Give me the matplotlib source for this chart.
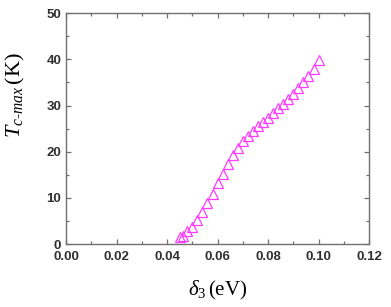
import matplotlib

matplotlib.use("Agg")
import matplotlib.pyplot as plt
from matplotlib.ticker import MultipleLocator

# delta_3 (eV) and maximum Tc (K)
delta3 = [0.0453, 0.0463, 0.048, 0.050, 0.052, 0.054, 0.056, 0.058, 0.060,
          0.062, 0.064, 0.066, 0.068, 0.070, 0.072, 0.074, 0.076, 0.078,
          0.080, 0.082, 0.084, 0.086, 0.088, 0.090, 0.092, 0.094, 0.096,
          0.098, 0.100]
tc_max = [1.5, 1.8, 2.9, 3.8, 5.3, 6.9, 8.9, 10.9, 13.2,
          15.2, 17.4, 19.2, 20.9, 22.3, 23.4, 24.5, 25.5, 26.5,
          27.4, 28.4, 29.4, 30.4, 31.4, 32.5, 33.7, 35.0, 36.3,
          37.9, 39.8]

plt.rcParams["mathtext.fontset"] = "custom"
plt.rcParams["mathtext.rm"] = "Liberation Serif"
plt.rcParams["mathtext.it"] = "Liberation Serif:italic"

fig = plt.figure(figsize=(3.91, 3.07), dpi=100)
ax = fig.add_axes([0.169, 0.205, 0.775, 0.752])

ax.plot(delta3, tc_max, linestyle="none", marker="^", markersize=6.5,
        markerfacecolor="none", markeredgecolor="#ff3cff", markeredgewidth=0.9)

ax.set_xlim(0.0, 0.12)
ax.set_ylim(0, 50)
ax.xaxis.set_major_locator(MultipleLocator(0.02))
ax.xaxis.set_minor_locator(MultipleLocator(0.01))
ax.yaxis.set_major_locator(MultipleLocator(10))
ax.yaxis.set_minor_locator(MultipleLocator(5))
ax.xaxis.set_major_formatter(plt.FormatStrFormatter("%.2f"))

for s in ax.spines.values():
    s.set_color("#707070")
    s.set_linewidth(1.0)
ax.tick_params(which="both", direction="in", top=True, right=True,
               color="#707070", width=0.9)
ax.tick_params(which="major", length=3.5, labelsize=9.5, labelcolor="#303030")
ax.tick_params(axis="x", which="major", pad=5)
ax.tick_params(which="minor", length=2)
for lab in ax.get_xticklabels() + ax.get_yticklabels():
    lab.set_fontweight("bold")
    lab.set_family("Liberation Sans")
for lab in ax.get_yticklabels():
    lab.set_verticalalignment("center_baseline")

ax.set_xlabel(r"$\delta_3\,$(eV)", fontsize=15, family="Liberation Serif")
ax.set_ylabel(r"$T_{c\text{-}max}\,$(K)", fontsize=16, family="Liberation Serif")
ax.xaxis.set_label_coords(0.5, -0.15)
ax.yaxis.set_label_coords(-0.13, 0.645)

fig.savefig("out.png", dpi=100)
